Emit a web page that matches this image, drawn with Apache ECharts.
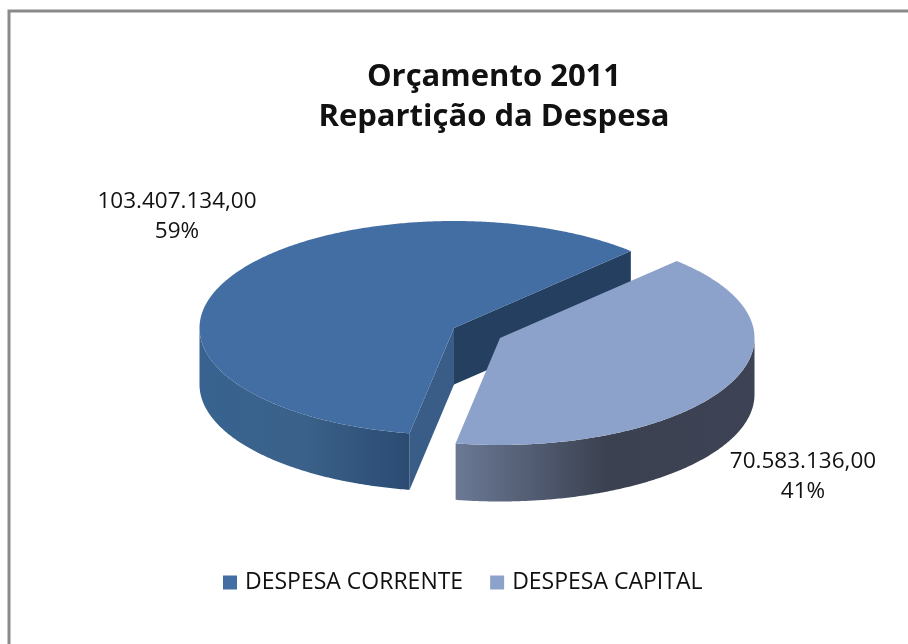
<!DOCTYPE html>
<html>
<head>
<meta charset="utf-8">
<title>Orçamento 2011</title>
<script src="https://cdn.jsdelivr.net/npm/echarts@6/dist/echarts.min.js"></script>
<style>
html, body { margin: 0; padding: 0; background: #fff; }
#chart { width: 908px; height: 644px; }
</style>
</head>
<body>
<div id="chart"></div>
<script>
const categories = ['DESPESA CORRENTE', 'DESPESA CAPITAL']
const valueLabels = ['103.407.134,00', '70.583.136,00']
const values = [103407134, 70583136]
const total = values[0] + values[1]

// Projected pie layout
const rx = 254.5
const ry = 107
const depth = 56.5
const startAngle = -46
const centers = [[454, 328], [500, 338]]
const labelPos = [[177, 216.5], [803, 477]]

const sliceStyles = [
    {
        top: '#426EA3',
        cutA: '#253F60',
        cutB: '#3A5D88',
        side: [[0, '#386390'], [0.5, '#3A6189'], [1, '#2B4A72']],
        sideRange: [199, 412]
    },
    {
        top: '#8DA2CA',
        cutA: '#3C4253',
        cutB: '#3C4253',
        side: [[0, '#6B7995'], [0.5, '#3B4151'], [1, '#3D4354']],
        sideRange: [456, 753]
    }
]

// Slice angles come from the values, going anticlockwise on screen
const angleSpans = []
let acc = startAngle
values.forEach((v) => {
    const sweep = v / total * 360
    angleSpans.push([acc, acc - sweep])
    acc -= sweep
})

const pt = (c, deg, dy) => {
    const t = deg * Math.PI / 180
    return [c[0] + rx * Math.cos(t), c[1] + ry * Math.sin(t) + (dy || 0)]
}

const arc = (c, from, to, dy) => {
    const pts = []
    const n = Math.max(2, Math.ceil(Math.abs(to - from) * 2))
    for (let i = 0; i <= n; i++) {
        pts.push(pt(c, from + (to - from) * i / n, dy))
    }
    return pts
}

// the part of the rim that faces the viewer (sin > 0)
const frontRange = (a, b) => {
    for (let k = -2; k <= 1; k++) {
        const lo = Math.max(Math.min(a, b), k * 360)
        const hi = Math.min(Math.max(a, b), k * 360 + 180)
        if (lo < hi) return [hi, lo]
    }
    return null
}

const makeSeries = (idx) => ({
    type: 'custom',
    name: categories[idx],
    coordinateSystem: 'none',
    silent: true,
    itemStyle: { color: sliceStyles[idx].top },
    data: [[values[idx]]],
    renderItem: () => {
        const s = sliceStyles[idx]
        const c = centers[idx]
        const span = angleSpans[idx]
        const children = []
        const poly = (points, fill) => children.push({
            type: 'polygon',
            shape: { points: points },
            style: { fill: fill, stroke: null }
        })

        // cut faces
        if (idx === 0) {
            const a = pt(c, span[0])
            const b = pt(c, span[1])
            poly([c, a, pt(c, span[0], depth), [c[0], c[1] + depth]], s.cutA)
            poly([c, b, pt(c, span[1], depth), [c[0], c[1] + depth]], s.cutB)
        }

        // rim
        const fr = frontRange(span[0], span[1])
        if (fr) {
            const upper = arc(c, fr[0], fr[1], 0)
            const lower = arc(c, fr[1], fr[0], depth)
            const x0 = s.sideRange[0]
            const x1 = s.sideRange[1]
            poly(upper.concat(lower), new echarts.graphic.LinearGradient(x0, 0, x1, 0,
                s.side.map((d) => ({ offset: d[0], color: d[1] })), true))
        }

        // top surface
        poly([c].concat(arc(c, span[0], span[1], 0)), s.top)

        // data label
        children.push({
            type: 'text',
            x: labelPos[idx][0],
            y: labelPos[idx][1],
            z2: 10,
            style: {
                text: valueLabels[idx] + '\n' + Math.round(values[idx] / total * 100) + '%',
                fill: '#111',
                font: '22.5px "Open Sans"',
                align: 'center',
                verticalAlign: 'middle',
                lineHeight: 30
            }
        })
        return { type: 'group', children: children }
    }
})

const myChart = echarts.init(document.getElementById('chart'), null, { renderer: 'canvas' })
myChart.setOption({
    animation: false,
    backgroundColor: '#fff',
    graphic: [{
        // the frame only shows on the top and left, the rest is cropped off
        type: 'polyline',
        shape: { points: [[9, 644], [9, 11], [908, 11]] },
        style: { fill: 'none', stroke: '#8A8A8A', lineWidth: 3 },
        silent: true
    }, {
        type: 'text',
        x: 494,
        y: 97,
        silent: true,
        style: {
            text: 'Orçamento 2011\nRepartição da Despesa',
            fill: '#111',
            font: 'bold 31px "Open Sans"',
            align: 'center',
            verticalAlign: 'middle',
            lineHeight: 40
        }
    }],
    legend: {
        data: categories,
        top: 571,
        left: 223,
        padding: 0,
        icon: 'rect',
        itemWidth: 14,
        itemHeight: 14,
        itemGap: 27,
        textStyle: { color: '#111', fontFamily: 'Open Sans', fontSize: 23, padding: [0, 0, 0, 3] }
    },
    series: [makeSeries(0), makeSeries(1)]
})
</script>
</body>
</html>
